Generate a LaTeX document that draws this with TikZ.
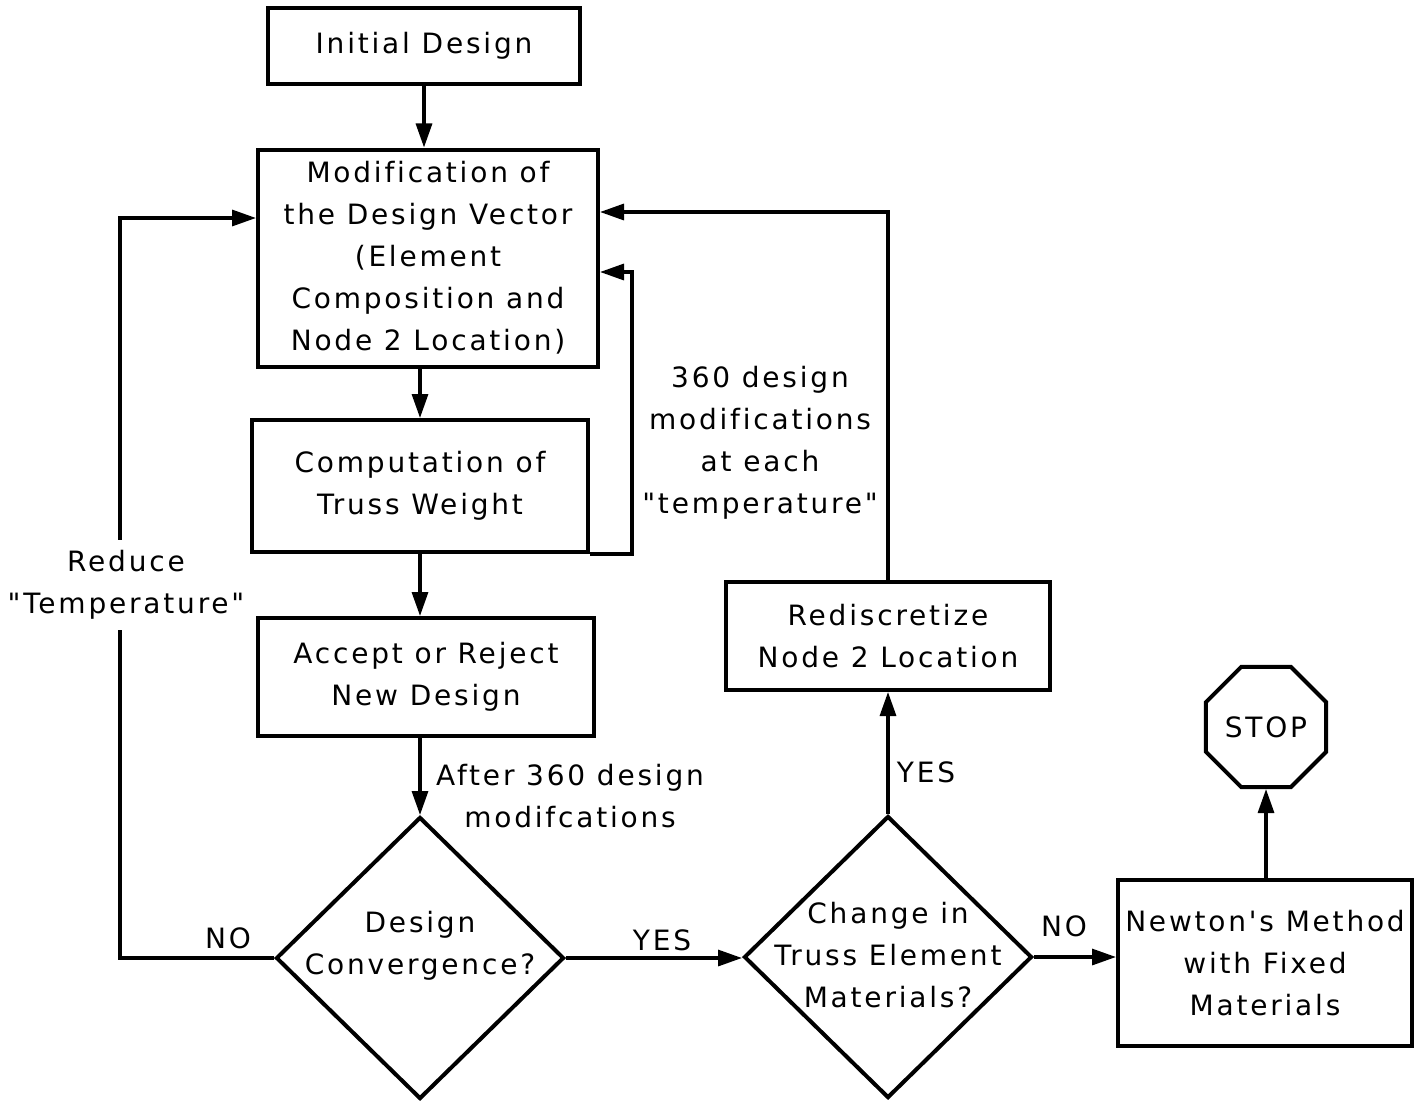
\documentclass[tikz,border=0pt]{standalone}
\usepackage{fontspec}
\newfontfamily\flowfont[LetterSpace=10,Ligatures=NoCommon]{DejaVu Sans}
\usetikzlibrary{shapes.geometric,arrows.meta}
\begin{document}
\begin{tikzpicture}[x=0.5pt,y=-0.5pt,
  font=\flowfont\fontsize{14}{21}\selectfont,
  box/.style={draw,line width=2pt,align=center,inner sep=0pt},
  dec/.style={draw,diamond,line width=2pt,inner sep=0pt,minimum width=144pt,minimum height=141pt},
  txt/.style={align=center,inner sep=1pt},
  lin/.style={line width=1.6pt},
  arr/.style={line width=1.6pt,-{Triangle[length=12pt,width=8pt]}}]
\useasboundingbox (0,0) rectangle (1418,1102);
\node[box,minimum width=156pt,minimum height=38pt] (init) at (424,46) {Initial Design};
\node[box,minimum width=170pt,minimum height=108.5pt] (modif) at (428,258) {Modification of\\the Design Vector\\(Element\\Composition and\\Node 2 Location)};
\node[box,minimum width=168pt,minimum height=66pt] (weight) at (420,486) {Computation of\\Truss Weight};
\node[box,minimum width=168pt,minimum height=59pt] (accept) at (426,677) {Accept or Reject\\New Design};
\node[dec] (conv) at (420,958) {};
\node[txt] (convt) at (420,946) {Design\\Convergence?};
\node[dec] (change) at (888,957) {};
\node[txt] (changet) at (888,955) {Change in\\Truss Element\\Materials?};
\node[box,minimum width=162pt,minimum height=54pt] (redisc) at (888,636) {Rediscretize\\Node 2 Location};
\node[box,minimum width=147pt,minimum height=83pt] (newton) at (1265,963) {Newton's Method\\with Fixed\\Materials};
\node[draw,regular polygon,regular polygon sides=8,line width=2pt,minimum size=65pt,inner sep=0pt] (stop) at (1266,727) {STOP};
\coordinate[] (L1) at (632,272);
\coordinate[] (L2) at (120,218);
\coordinate[] (L3) at (888,212);
\draw[arr] (init.south) -- (init.south |- modif.north);
\draw[arr] (weight.north |- modif.south) -- (weight.north);
\draw[arr] (weight.south) -- (weight.south |- accept.north);
\draw[arr] (conv.north |- accept.south) -- (conv.north);
\draw[arr] (conv.east) -- (conv.east -| change.west);
\draw[arr] (change.north) -- (redisc.south);
\draw[arr] (change.east) -- (change.east -| newton.west);
\draw[arr] (newton.north -| stop.south) -- (stop.south);
\draw[arr] (weight.south east) -| (L1) -- (L1 -| modif.east);
\draw[arr] (conv.west) -| (L2) -- (L2 -| modif.west);
\draw[arr] (redisc.north) -- (L3) -- (L3 -| modif.east);
\node[txt] (after) at (570,796) {After 360 design\\modifcations};
\node[txt] (inner) at (760,443) {360 design\\modifications\\at each\\"temperature"};
\node[txt,fill=white,inner xsep=0pt,inner ysep=5pt] (reduce) at (126,585) {Reduce\\"Temperature"};
\node[txt] (no1) at (228,938) {NO};
\node[txt] (yes1) at (662,940) {YES};
\node[txt] (yes2) at (926,772) {YES};
\node[txt] (no2) at (1064,926) {NO};
\end{tikzpicture}
\end{document}
